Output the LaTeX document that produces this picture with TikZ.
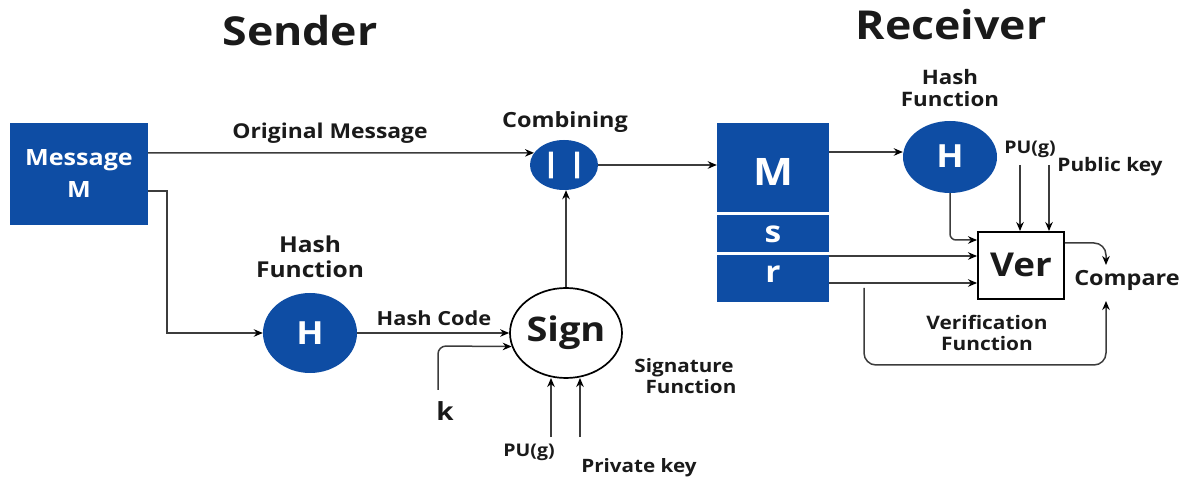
\documentclass[tikz,border=0pt]{standalone}
\usepackage{fontspec}
\setmainfont{Open Sans}[FakeStretch=1.12]
\newfontfamily\barfont{Open Sans}[FakeBold=4]
\usetikzlibrary{arrows.meta,shapes.geometric}
\definecolor{dsblue}{RGB}{14,77,164}
\definecolor{dsline}{RGB}{60,60,60}
\definecolor{dstext}{RGB}{26,26,26}
\tikzset{
  lbl/.style={text=dstext,font=\bfseries\fontsize{#1}{#1}\selectfont,inner sep=0pt,align=center},
  lbl/.default=17,
  bluebox/.style={draw=none,fill=dsblue,text=white,inner sep=0pt},
  blueoval/.style={ellipse,draw=none,fill=dsblue,text=white,inner sep=0pt},
  wire/.style={draw=dsline,line width=1.5bp},
  arr/.style={wire,-{Stealth[length=9bp,width=7.5bp,black]}},
}
\begin{document}
\begin{tikzpicture}[x=1bp,y=-1bp]
\useasboundingbox (0,0) rectangle (1182,478);

% titles
\node[lbl=40] (tsend) at (300,31) {Sender};
\node[lbl=40] (trecv) at (951,25) {Receiver};

% ---------------- sender side ----------------
\node[bluebox,minimum width=138bp,minimum height=102bp] (msg) at (79,174) {};
\node[lbl=22.5,text=white] (msgt) at (79,160) {Message};
\node[lbl=22.5,text=white] (msgm) at (79,190) {M};

\node[blueoval,minimum width=94bp,minimum height=80bp] (hs) at (310,333) {};
\node[lbl=32,text=white] (hst) at (310,333) {H};
\node[lbl=22] (hslbl) at (310,257) {Hash\\[3bp]Function};

\node[ellipse,draw=black,line width=1.7bp,fill=white,minimum width=112bp,minimum height=90bp,inner sep=0pt] (sign) at (566,333) {};
\node[lbl=34] (signt) at (566,333) {Sign};
\node[lbl=18.5] (signlbl) at (684,376) {Signature\\[2bp]\hspace*{14bp}Function};

\node[blueoval,minimum width=68bp,minimum height=50bp] (comb) at (564,165) {};
\node[text=white,font=\barfont\bfseries\fontsize{26}{26}\selectfont,inner sep=0pt] (combt) at (564,165) {|\hspace{12bp}|};
\node[lbl=21] (comblbl) at (565,122) {Combining};

\node[lbl=20.5] (olbl) at (330,133) {Original Message};
\node[lbl=19.5] (hclbl) at (434,318) {Hash Code};
\node[lbl=25] (klbl) at (445,411) {k};
\node[lbl=17.5] (pulbl) at (529,452) {PU(g)};
\node[lbl=18.5] (prlbl) at (639,468) {Private key};

\coordinate (kin) at (438,390);
\coordinate (pu1) at (551,437);
\coordinate (pu2) at (580,437);

\draw[arr] (msg.east |- 0,153) -- (comb.158);
\draw[arr] (msg.east |- 0,191) -- (167,191) -- (167,333) -- (hs.west);
\draw[arr] (hs.east) -- (sign.west);
\draw[arr,rounded corners=8bp] (kin) -- (kin |- 0,346) -- (sign.194);
\draw[arr] (sign.north) -- (sign.north |- comb.south);
\draw[arr] (pu1) -- (pu1 |- 0,378);
\draw[arr] (pu2) -- (pu2 |- 0,378);

% ---------------- receiver side ----------------
\node[bluebox,minimum width=112bp,minimum height=179bp] (rx) at (773,212.5) {};
\draw[white,line width=3bp] (rx.west |- 0,214) -- (rx.east |- 0,214);
\draw[white,line width=3bp] (rx.west |- 0,254) -- (rx.east |- 0,254);
\node[lbl=38,text=white] (rxm) at (773,172) {M};
\node[lbl=30,text=white] (rxs) at (773,234) {s};
\node[lbl=30,text=white] (rxr) at (773,274) {r};

\draw[arr] (comb.east) -- (rx.west |- comb.east);

\node[blueoval,minimum width=94bp,minimum height=72bp] (hr) at (950,157) {};
\node[lbl=32,text=white] (hrt) at (950,156) {H};
\node[lbl=20] (hrlbl) at (950,88) {Hash\\[2bp]Function};

\node[draw=black,line width=1.9bp,fill=white,minimum width=86bp,minimum height=67bp,inner sep=0pt] (ver) at (1021,265.5) {};
\node[lbl=33] (vert) at (1021,265) {Ver};
\node[lbl=18.7] (verlbl) at (987,333) {Verification\\[2bp]Function};

\node[lbl=17.5] (pu2lbl) at (1030,149) {PU(g)};
\node[lbl=18.7] (pklbl) at (1110,167) {Public key};
\node[lbl=21] (cmp) at (1127,280) {Compare};

\coordinate (pk1) at (1020,165);
\coordinate (pk2) at (1049,165);
\coordinate (loop) at (864,288);

\draw[arr] (rx.east |- 0,152) -- (hr.west |- 0,152);
\draw[arr,rounded corners=6bp] (hr.south) -- (hr.south |- 0,240) -- (ver.west |- 0,240);
\draw[arr] (rx.east |- 0,256) -- (ver.west |- 0,256);
\draw[arr] (rx.east |- 0,283) -- (ver.west |- 0,283);
\draw[arr] (pk1) -- (pk1 |- ver.north);
\draw[arr] (pk2) -- (pk2 |- ver.north);
\draw[arr,rounded corners=12bp] (ver.east |- 0,243) -- (1106,243) -- (1106,265);
\draw[arr,rounded corners=12bp] (loop) -- (864,365) -- (1106,365) -- (1106,301);
\end{tikzpicture}
\end{document}
